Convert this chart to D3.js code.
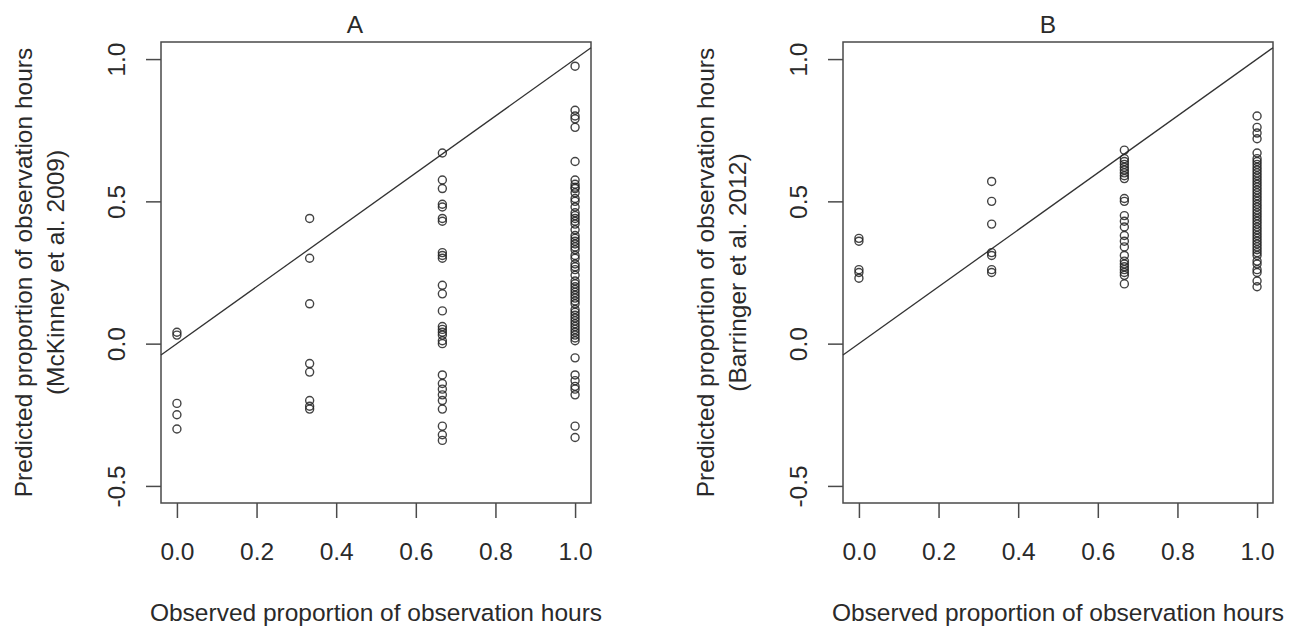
<!DOCTYPE html>
<html>
<head>
<meta charset="utf-8">
<script src="https://cdn.jsdelivr.net/npm/d3@7"></script>
<style>
  body { margin: 0; background: #fff; }
  svg text { font-family: "Liberation Sans", Arial, sans-serif; fill: #2a2a2a; }
</style>
</head>
<body>
<svg id="chart" width="1302" height="628"></svg>
<script>
/*************************************/
/*   Data   */
/*************************************/
const observedLevels = [0, 1 / 3, 2 / 3, 1];
const xTicks = [0, 0.2, 0.4, 0.6, 0.8, 1.0];
const yTicks = [-0.5, 0, 0.5, 1.0];

// Panel A: McKinney et al. 2009
const mckinney0   = [0.04, 0.03, -0.21, -0.25, -0.30];
const mckinney33  = [0.44, 0.30, 0.14, -0.07, -0.10, -0.20, -0.22, -0.23];
const mckinney67  = [0.67, 0.575, 0.545, 0.49, 0.48, 0.44, 0.43, 0.32, 0.31, 0.30, 0.205, 0.175, 0.115,
                     0.06, 0.05, 0.04, 0.03, 0.01, 0.00, -0.11, -0.14, -0.16, -0.18, -0.20, -0.23,
                     -0.29, -0.32, -0.34];
const mckinney100 = [0.975, 0.82, 0.80, 0.79, 0.76, 0.64, 0.575, 0.56, 0.55, 0.545, 0.53, 0.51, 0.50,
                     0.48, 0.46, 0.45, 0.44, 0.43, 0.42, 0.40, 0.38, 0.37, 0.36, 0.35, 0.34, 0.33,
                     0.31, 0.30, 0.28, 0.27, 0.26, 0.24, 0.22, 0.21, 0.20, 0.19, 0.18, 0.17, 0.16,
                     0.15, 0.14, 0.12, 0.11, 0.10, 0.09, 0.08, 0.07, 0.06, 0.05, 0.04, 0.03, 0.02,
                     0.01, -0.05, -0.11, -0.13, -0.15, -0.16, -0.18, -0.29, -0.33];

// Panel B: Barringer et al. 2012
const barringer0   = [0.37, 0.36, 0.26, 0.25, 0.23];
const barringer33  = [0.57, 0.50, 0.42, 0.32, 0.31, 0.26, 0.25];
const barringer67  = [0.68, 0.65, 0.64, 0.63, 0.62, 0.61, 0.60, 0.59, 0.58, 0.51, 0.50, 0.45, 0.43,
                      0.41, 0.38, 0.36, 0.34, 0.31, 0.29, 0.28, 0.27, 0.26, 0.25, 0.24, 0.21];
const barringer100 = [0.80, 0.76, 0.74, 0.72, 0.67, 0.65, 0.64, 0.63, 0.62, 0.61, 0.60, 0.59, 0.58,
                      0.57, 0.56, 0.55, 0.54, 0.53, 0.52, 0.51, 0.50, 0.49, 0.48, 0.47, 0.46, 0.45,
                      0.44, 0.43, 0.42, 0.41, 0.40, 0.39, 0.38, 0.37, 0.36, 0.35, 0.34, 0.33, 0.32,
                      0.31, 0.29, 0.28, 0.26, 0.25, 0.22, 0.20];

const panels = [
  { id: "A", left: 161, titleX: 355, groups: [mckinney0, mckinney33, mckinney67, mckinney100],
    yLabel: ["Predicted proportion of observation hours", "(McKinney et al. 2009)"] },
  { id: "B", left: 843, titleX: 1048, groups: [barringer0, barringer33, barringer67, barringer100],
    yLabel: ["Predicted proportion of observation hours", "(Barringer et al. 2012)"] }
];

const plotWidth = 430;
const plotTop = 42;
const plotBottom = 503;
const fontSize = 24.5;
const lineColor = "#4a4a4a";

const svg = d3.select("#chart");

/****************************/
/*      Draw each panel     */
/****************************/
const drawPanel = (p) => {

  const xScale = d3.scaleLinear()
    .domain([-0.04, 1.04])
    .range([p.left, p.left + plotWidth]);

  const yScale = d3.scaleLinear()
    .domain([-0.56, 1.06])
    .range([plotBottom, plotTop]);

  const g = svg.append("g").attr("class", `panel-${p.id}`);

  // x axis
  const xAxis = g.append("g")
    .attr("transform", `translate(0, ${plotBottom})`)
    .call(d3.axisBottom(xScale).tickValues(xTicks).tickSize(15).tickFormat(d3.format(".1f")));
  xAxis.select(".domain").remove();
  xAxis.selectAll("line").attr("stroke", lineColor).attr("stroke-width", 1.5);
  xAxis.selectAll("text")
    .attr("y", 57).attr("dy", 0)
    .attr("fill", "#2a2a2a")
    .style("font-size", `${fontSize}px`);

  // y axis
  const yAxis = g.append("g")
    .attr("transform", `translate(${p.left}, 0)`)
    .call(d3.axisLeft(yScale).tickValues(yTicks).tickSize(15).tickFormat(d3.format(".1f")));
  yAxis.select(".domain").remove();
  yAxis.selectAll("line").attr("stroke", lineColor).attr("stroke-width", 1.5);
  yAxis.selectAll("text")
    .attr("x", 0).attr("dy", 0)
    .attr("text-anchor", "middle")
    .attr("transform", "translate(-36, 0) rotate(-90)")
    .attr("fill", "#2a2a2a")
    .text(d => d3.format(".1f")(d).replace("\u2212", "-"))
    .style("font-size", `${fontSize}px`);

  // box
  g.append("rect")
    .attr("x", p.left).attr("y", plotTop)
    .attr("width", plotWidth).attr("height", plotBottom - plotTop)
    .attr("fill", "none").attr("stroke", lineColor).attr("stroke-width", 1.5);

  // 1:1 line
  const line = d3.line().x(d => xScale(d)).y(d => yScale(d));
  g.append("path")
    .attr("d", line([-0.04, 1.04]))
    .attr("fill", "none").attr("stroke", "#333").attr("stroke-width", 1.3);

  // points
  const points = p.groups.flatMap((vals, i) => vals.map(v => ({ x: observedLevels[i], y: v })));
  g.selectAll(".pt")
    .data(points)
    .join("circle")
      .attr("class", "pt")
      .attr("cx", d => xScale(d.x))
      .attr("cy", d => yScale(d.y))
      .attr("r", 4)
      .attr("fill", "none")
      .attr("stroke", "#222")
      .attr("stroke-opacity", 0.85)
      .attr("stroke-width", 1.4);

  // title
  g.append("text")
    .attr("x", p.titleX).attr("y", 33)
    .attr("text-anchor", "middle")
    .style("font-size", `${fontSize}px`)
    .text(p.id);

  // x label
  g.append("text")
    .attr("x", p.left + plotWidth / 2).attr("y", 621)
    .attr("text-anchor", "middle")
    .style("font-size", `${fontSize}px`)
    .text("Observed proportion of observation hours");

  // y label, two lines
  p.yLabel.forEach((t, i) => {
    g.append("text")
      .attr("transform", `translate(${p.left - 129 + i * 32}, ${(plotTop + plotBottom) / 2}) rotate(-90)`)
      .attr("text-anchor", "middle")
      .style("font-size", `${fontSize}px`)
      .text(t);
  });

};

panels.forEach(drawPanel);
</script>
</body>
</html>
